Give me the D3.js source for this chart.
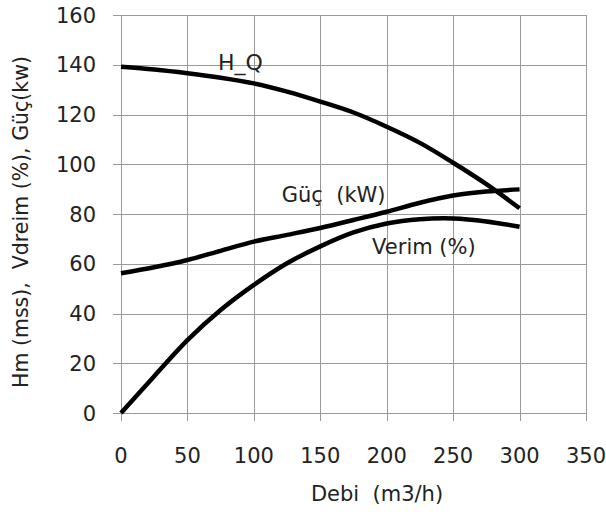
<!DOCTYPE html>
<html>
<head>
<meta charset="utf-8">
<script src="https://cdn.jsdelivr.net/npm/d3@7"></script>
<style>
  body { margin: 0; background: #fff; }
  text { font-family: "DejaVu Sans", sans-serif; fill: #222; white-space: pre; }
</style>
</head>
<body>
<div id="chart"></div>
<script>
// Debi (m3/h) sample points
var debi = [0, 25, 50, 75, 100, 125, 150, 175, 200, 225, 250, 275, 300]

// H_Q curve (mss)
var hq = [139.2, 138.1, 136.6, 134.8, 132.5, 129.2, 125.2, 120.8, 115.1, 108.6, 100.6, 92.0, 82.3]

// Guc (kW)
var guc = [56.2, 58.6, 61.5, 65.2, 68.9, 71.6, 74.4, 77.6, 80.9, 84.5, 87.4, 89.0, 89.9]

// Verim (%)
var verim = [0, 14.8, 29.3, 41.4, 51.5, 60.2, 67.0, 72.6, 76.2, 77.9, 78.2, 77.0, 74.9]

var xTicks = [0, 50, 100, 150, 200, 250, 300, 350]
var yTicks = [0, 20, 40, 60, 80, 100, 120, 140, 160]

var width = 606,
  height = 514,
  margin = { top: 15, right: 20, bottom: 101, left: 121 }

var innerW = 586 - margin.left,
  innerH = 413 - margin.top

var x = d3.scaleLinear().domain([0, 350]).range([0, innerW])
var y = d3.scaleLinear().domain([0, 160]).range([innerH, 0])

var svg = d3
  .select('#chart')
  .append('svg')
  .attr('width', width)
  .attr('height', height)

var g = svg
  .append('g')
  .attr('transform', 'translate(' + margin.left + ',' + margin.top + ')')

// grid
g.selectAll('.hgrid')
  .data(yTicks)
  .enter()
  .append('line')
  .attr('x1', -8)
  .attr('x2', innerW)
  .attr('y1', d => Math.round(y(d)) + 0.5)
  .attr('y2', d => Math.round(y(d)) + 0.5)
  .attr('stroke', '#9a9a9a')
  .attr('stroke-width', 1)

g.selectAll('.vgrid')
  .data(xTicks)
  .enter()
  .append('line')
  .attr('x1', d => Math.round(x(d)) + 0.5)
  .attr('x2', d => Math.round(x(d)) + 0.5)
  .attr('y1', 0)
  .attr('y2', innerH + 8)
  .attr('stroke', '#9a9a9a')
  .attr('stroke-width', 1)

// tick labels
g.selectAll('.ylab')
  .data(yTicks)
  .enter()
  .append('text')
  .attr('x', -25)
  .attr('y', d => y(d))
  .attr('dy', '0.36em')
  .attr('text-anchor', 'end')
  .style('font-size', '21px')
  .text(d => d)

g.selectAll('.xlab')
  .data(xTicks)
  .enter()
  .append('text')
  .attr('x', d => x(d))
  .attr('y', innerH + 50)
  .attr('text-anchor', 'middle')
  .style('font-size', '21px')
  .text(d => d)

// axis titles
svg
  .append('text')
  .attr('x', 377)
  .attr('y', 501)
  .attr('text-anchor', 'middle')
  .style('font-size', '21px')
  .text('Debi  (m3/h)')

svg
  .append('text')
  .attr('transform', 'translate(28,222) rotate(-90)')
  .attr('text-anchor', 'middle')
  .style('font-size', '20.5px')
  .text('Hm (mss),  Vdreim (%), Güç(kw)')

// curves
var line = d3
  .line()
  .x(d => x(d[0]))
  .y(d => y(d[1]))
  .curve(d3.curveCatmullRom.alpha(0.5))

var series = [hq, guc, verim]
series.forEach(function(s) {
  g.append('path')
    .datum(debi.map((q, i) => [q, s[i]]))
    .attr('d', line)
    .attr('fill', 'none')
    .attr('stroke', '#000')
    .attr('stroke-width', 4.5)
})

// curve labels
var labels = [
  { t: 'H_Q', q: 73, v: 138, s: 22 },
  { t: 'Güç  (kW)', q: 121, v: 85, s: 21 },
  { t: 'Verim (%)', q: 189, v: 64, s: 21 },
]
g.selectAll('.clab')
  .data(labels)
  .enter()
  .append('text')
  .attr('x', d => x(d.q))
  .attr('y', d => y(d.v))
  .style('font-size', d => d.s + 'px')
  .text(d => d.t)
</script>
</body>
</html>
